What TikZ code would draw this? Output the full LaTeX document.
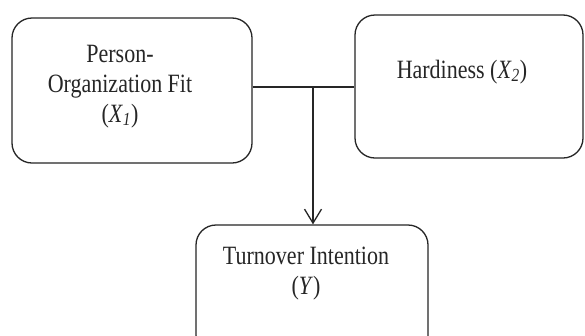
\documentclass[tikz,border=0pt]{standalone}
\usepackage{fontspec}
\setmainfont{Liberation Serif}
\usetikzlibrary{arrows.meta}
\newcommand{\tallbox}[1]{\scalebox{1}[1.2]{\begin{tabular}{@{}c@{}}#1\end{tabular}}}
\begin{document}
\begin{tikzpicture}[x=1pt,y=-1pt,
  box/.style={draw=black!85,line width=1.3pt,rounded corners=20pt,inner sep=0pt},
  lbl/.style={font=\fontsize{22}{25}\selectfont,inner sep=0pt,text=black!85},
  conn/.style={draw=black!85,line width=1.3pt}]
\clip (0,0) rectangle (585,335);
\fill[white] (0,0) rectangle (585,335);
\node[box,minimum width=240pt,minimum height=145pt] (b1) at (132,90.5) {};
\node[box,minimum width=228pt,minimum height=143pt] (b2) at (469,86.5) {};
\node[box,minimum width=232pt,minimum height=130pt] (b3) at (312,290) {};
\node[lbl] (t1) at (120,86) {\tallbox{Person-\\Organization Fit\\(\textit{X}\textsubscript{\textit{1}})}};
\node[lbl] (t2) at (462,72) {\tallbox{Hardiness (\textit{X}\textsubscript{\textit{2}})}};
\node[lbl] (t3) at (306,273) {\tallbox{Turnover Intention\\(\textit{Y})}};
\coordinate (j) at (313,87);
\draw[conn] (b1.east |- j) -- (b2.west |- j);
\draw[conn,-{Straight Barb[length=14pt,width=17pt,line width=1.3pt]}] (j) -- (b3.north -| j);
\end{tikzpicture}
\end{document}
